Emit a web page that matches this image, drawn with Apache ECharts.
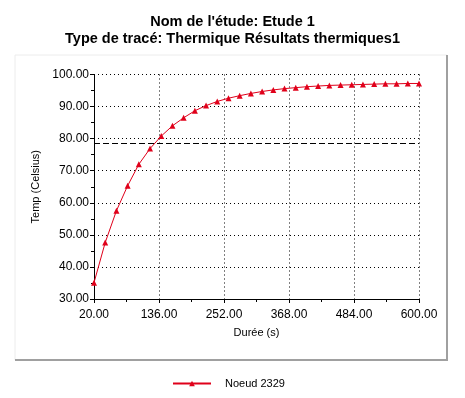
<!DOCTYPE html>
<html>
<head>
<meta charset="utf-8">
<script src="https://cdn.jsdelivr.net/npm/echarts@6/dist/echarts.min.js"></script>
<style>
  html, body { margin: 0; padding: 0; background: #fff; }
  #chart { width: 465px; height: 398px; }
</style>
</head>
<body>
<div id="chart"></div>
<script>
// durée (s) et température du noeud
let times = [20, 40, 60, 80, 100, 120, 140, 160, 180, 200, 220, 240, 260, 280, 300,
             320, 340, 360, 380, 400, 420, 440, 460, 480, 500, 520, 540, 560, 580, 600];
let temps = [35.1, 47.6, 57.5, 65.3, 72.0, 76.9, 80.8, 84.0, 86.5, 88.7, 90.3, 91.6, 92.6, 93.4, 94.1,
             94.7, 95.2, 95.6, 95.9, 96.2, 96.4, 96.6, 96.7, 96.8, 96.9, 97.0, 97.1, 97.1, 97.2, 97.2];
let seuil = 78.7;
let seriesName = 'Noeud 2329';
let titleLines = ["Nom de l'étude: Etude 1", 'Type de tracé: Thermique Résultats thermiques1'];

let font = '"Liberation Sans", Arial, sans-serif';
let chart = echarts.init(document.getElementById('chart'));

let option = {
    backgroundColor: '#fff',
    animation: false,
    title: {
        text: titleLines.join('\n'),
        left: 'center',
        top: 8,
        textStyle: {
            fontFamily: font,
            fontSize: 14.5,
            fontWeight: 'bold',
            color: '#000',
            lineHeight: 17
        }
    },
    graphic: [
        { type: 'line', shape: { x1: 15, y1: 55, x2: 447, y2: 55 }, style: { stroke: '#ececec', lineWidth: 1 } },
        { type: 'line', shape: { x1: 15, y1: 55, x2: 15, y2: 360 }, style: { stroke: '#ececec', lineWidth: 1 } },
        { type: 'line', shape: { x1: 447, y1: 55, x2: 447, y2: 361 }, style: { stroke: '#a0a0a0', lineWidth: 2 } },
        { type: 'line', shape: { x1: 15, y1: 360, x2: 448, y2: 360 }, style: { stroke: '#a0a0a0', lineWidth: 2 } }
    ],
    legend: {
        data: [seriesName],
        left: 167,
        top: 373,
        itemWidth: 38,
        itemHeight: 7,
        textStyle: { fontFamily: font, fontSize: 11, color: '#000', padding: [0, 0, 0, 9] }
    },
    grid: {
        left: 94,
        right: 46,
        top: 74.5,
        bottom: 99,
        containLabel: false
    },
    xAxis: {
        type: 'value',
        min: 20,
        max: 600,
        interval: 116,
        name: 'Durée (s)',
        nameLocation: 'middle',
        nameGap: 28,
        nameTextStyle: { fontFamily: font, fontSize: 11, color: '#000' },
        axisLine: { show: true, lineStyle: { color: '#000', width: 1 } },
        axisTick: { show: true, inside: false, length: 4, lineStyle: { color: '#000' } },
        minorTick: { show: true, splitNumber: 2, length: 3, lineStyle: { color: '#000' } },
        axisLabel: {
            fontFamily: font, fontSize: 12, color: '#000', margin: 10,
            formatter: v => v.toFixed(2)
        },
        splitLine: { show: true, lineStyle: { color: '#000', type: [1, 3], width: 1 } }
    },
    yAxis: {
        type: 'value',
        min: 30,
        max: 100,
        interval: 10,
        name: 'Temp (Celsius)',
        nameLocation: 'middle',
        nameGap: 52,
        nameTextStyle: { fontFamily: font, fontSize: 11, color: '#000' },
        axisLine: { show: true, lineStyle: { color: '#000', width: 1 } },
        axisTick: { show: true, inside: false, length: 4, lineStyle: { color: '#000' } },
        minorTick: { show: true, splitNumber: 2, length: 3, lineStyle: { color: '#000' } },
        axisLabel: {
            fontFamily: font, fontSize: 12, color: '#000', margin: 5,
            formatter: v => v.toFixed(2)
        },
        splitLine: { show: true, lineStyle: { color: '#000', type: [1, 3], width: 1 } }
    },
    series: [
        {
            name: seriesName,
            type: 'line',
            data: times.map((t, i) => [t, temps[i]]),
            symbol: 'triangle',
            symbolSize: 6,
            showAllSymbol: true,
            lineStyle: { color: '#e0001a', width: 1 },
            itemStyle: { color: '#e0001a' },
            markLine: {
                silent: true,
                symbol: 'none',
                label: { show: false },
                lineStyle: { color: '#000', type: [6, 3], width: 1 },
                data: [{ yAxis: seuil }]
            }
        }
    ]
};

chart.setOption(option);
</script>
</body>
</html>
